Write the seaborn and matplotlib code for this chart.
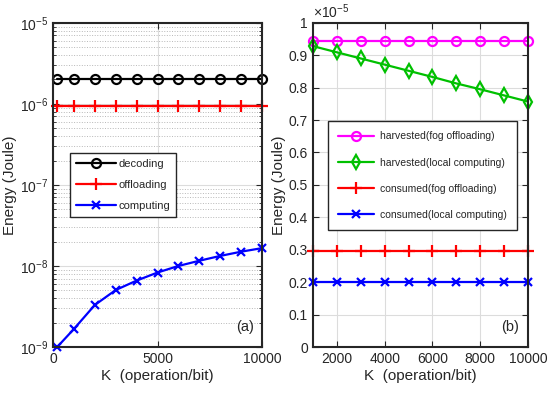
import numpy as np
import matplotlib
matplotlib.use('Agg')
import matplotlib.pyplot as plt
import seaborn as sns
from matplotlib.ticker import FuncFormatter, LogLocator, NullFormatter

# Data
K_a = [200, 1000, 2000, 3000, 4000, 5000, 6000, 7000, 8000, 9000, 10000]
decoding = [2.0e-6] * 11
offloading = [0.94e-6] * 11
computing = [1.0e-9, 1.67e-9, 3.3e-9, 5.05e-9, 6.6e-9, 8.3e-9, 1.0e-8,
             1.16e-8, 1.33e-8, 1.5e-8, 1.66e-8]

K_b = [1000, 2000, 3000, 4000, 5000, 6000, 7000, 8000, 9000, 10000]
harv_fog = [0.945e-5] * 10
harv_local = [0.928e-5, 0.909e-5, 0.890e-5, 0.871e-5, 0.852e-5,
              0.833e-5, 0.813e-5, 0.795e-5, 0.776e-5, 0.757e-5]
cons_fog = [0.296e-5] * 10
cons_local = [0.201e-5] * 10

sns.set_style('ticks')
plt.rcParams['font.family'] = ['Liberation Sans', 'DejaVu Sans']
plt.rcParams['mathtext.fontset'] = 'custom'
plt.rcParams['mathtext.rm'] = 'Liberation Sans'
txt = '#262626'

fig = plt.figure(figsize=(5.5, 3.93), dpi=100)
ax1 = fig.add_axes([0.0964, 0.117, 0.38, 0.825])
ax2 = fig.add_axes([0.569, 0.117, 0.391, 0.825])

lw = 1.6


def draw(ax, x, y, color, marker, ms, label):
    sns.lineplot(x=x, y=y, ax=ax, color=color, marker=marker, markersize=ms,
                 markerfacecolor='none', markeredgecolor=color, markeredgewidth=1.6,
                 linewidth=lw, label=label)


# === (a) log plot === #
draw(ax1, K_a, decoding, 'black', 'o', 6.5, 'decoding')
draw(ax1, K_a, offloading, 'red', '+', 8, 'offloading')
draw(ax1, K_a, computing, 'blue', 'x', 5.5, 'computing')
ax1.set_yscale('log')
ax1.set_xlim(0, 10000)
ax1.set_ylim(1e-9, 1e-5)
ax1.set_xticks([0, 5000, 10000])
ax1.yaxis.set_major_locator(LogLocator(base=10, numticks=10))
ax1.yaxis.set_minor_locator(LogLocator(base=10, subs=np.arange(2, 10), numticks=20))
ax1.yaxis.set_minor_formatter(NullFormatter())
ax1.grid(True, which='major', color='#dcdcdc', linewidth=0.8, linestyle='-')
ax1.grid(True, which='minor', axis='y', color='#b8b8b8', linewidth=0.7, linestyle=':')
ax1.legend(loc='upper left', bbox_to_anchor=(0.055, 0.615), fontsize=8,
           handlelength=3.6, fancybox=False, framealpha=1, edgecolor='#262626',
           borderpad=0.5, labelspacing=1.0, handletextpad=0.3)
ax1.text(0.96, 0.04, '(a)', transform=ax1.transAxes, ha='right', va='bottom',
         fontsize=10.5, color=txt)

# === (b) linear plot === #
draw(ax2, K_b, harv_fog, 'magenta', 'o', 6.5, 'harvested(fog offloading)')
draw(ax2, K_b, harv_local, '#00c000', 'd', 7.5, 'harvested(local computing)')
draw(ax2, K_b, cons_fog, 'red', '+', 8, 'consumed(fog offloading)')
draw(ax2, K_b, cons_local, 'blue', 'x', 5.5, 'consumed(local computing)')
ax2.set_xlim(1000, 10000)
ax2.set_ylim(0, 1e-5)
ax2.set_xticks([2000, 4000, 6000, 8000, 10000])
ax2.set_yticks(np.arange(0, 11) * 1e-6)
ax2.yaxis.set_major_formatter(FuncFormatter(lambda v, p: f'{v / 1e-5:g}'))
ax2.grid(True, color='#dcdcdc', linewidth=0.8)
ax2.text(0.0, 1.005, r'$\times10^{-5}$', transform=ax2.transAxes, ha='left',
         va='bottom', fontsize=10, color=txt)
ax2.legend(loc='upper left', bbox_to_anchor=(0.045, 0.367, 0.93, 0.346), mode='expand',
           fontsize=7.5, handlelength=3.4, fancybox=False, framealpha=1,
           edgecolor='#262626', borderpad=1.0, labelspacing=1.55, handletextpad=0.6)
ax2.text(0.96, 0.04, '(b)', transform=ax2.transAxes, ha='right', va='bottom',
         fontsize=10.5, color=txt)

for ax in (ax1, ax2):
    ax.set_xlabel('K  (operation/bit)', fontsize=11, color=txt, labelpad=2)
    ax.set_ylabel('Energy (Joule)', fontsize=11, color=txt, labelpad=2)
    ax.tick_params(direction='in', which='both', top=True, right=True,
                   labelsize=10, colors=txt, length=4)
    ax.tick_params(which='minor', length=2)
    for s in ax.spines.values():
        s.set_visible(True)
        s.set_linewidth(1.5)
        s.set_color('#262626')
    for l in ax.lines:
        l.set_clip_on(False)

fig.savefig('out.png', dpi=100)
